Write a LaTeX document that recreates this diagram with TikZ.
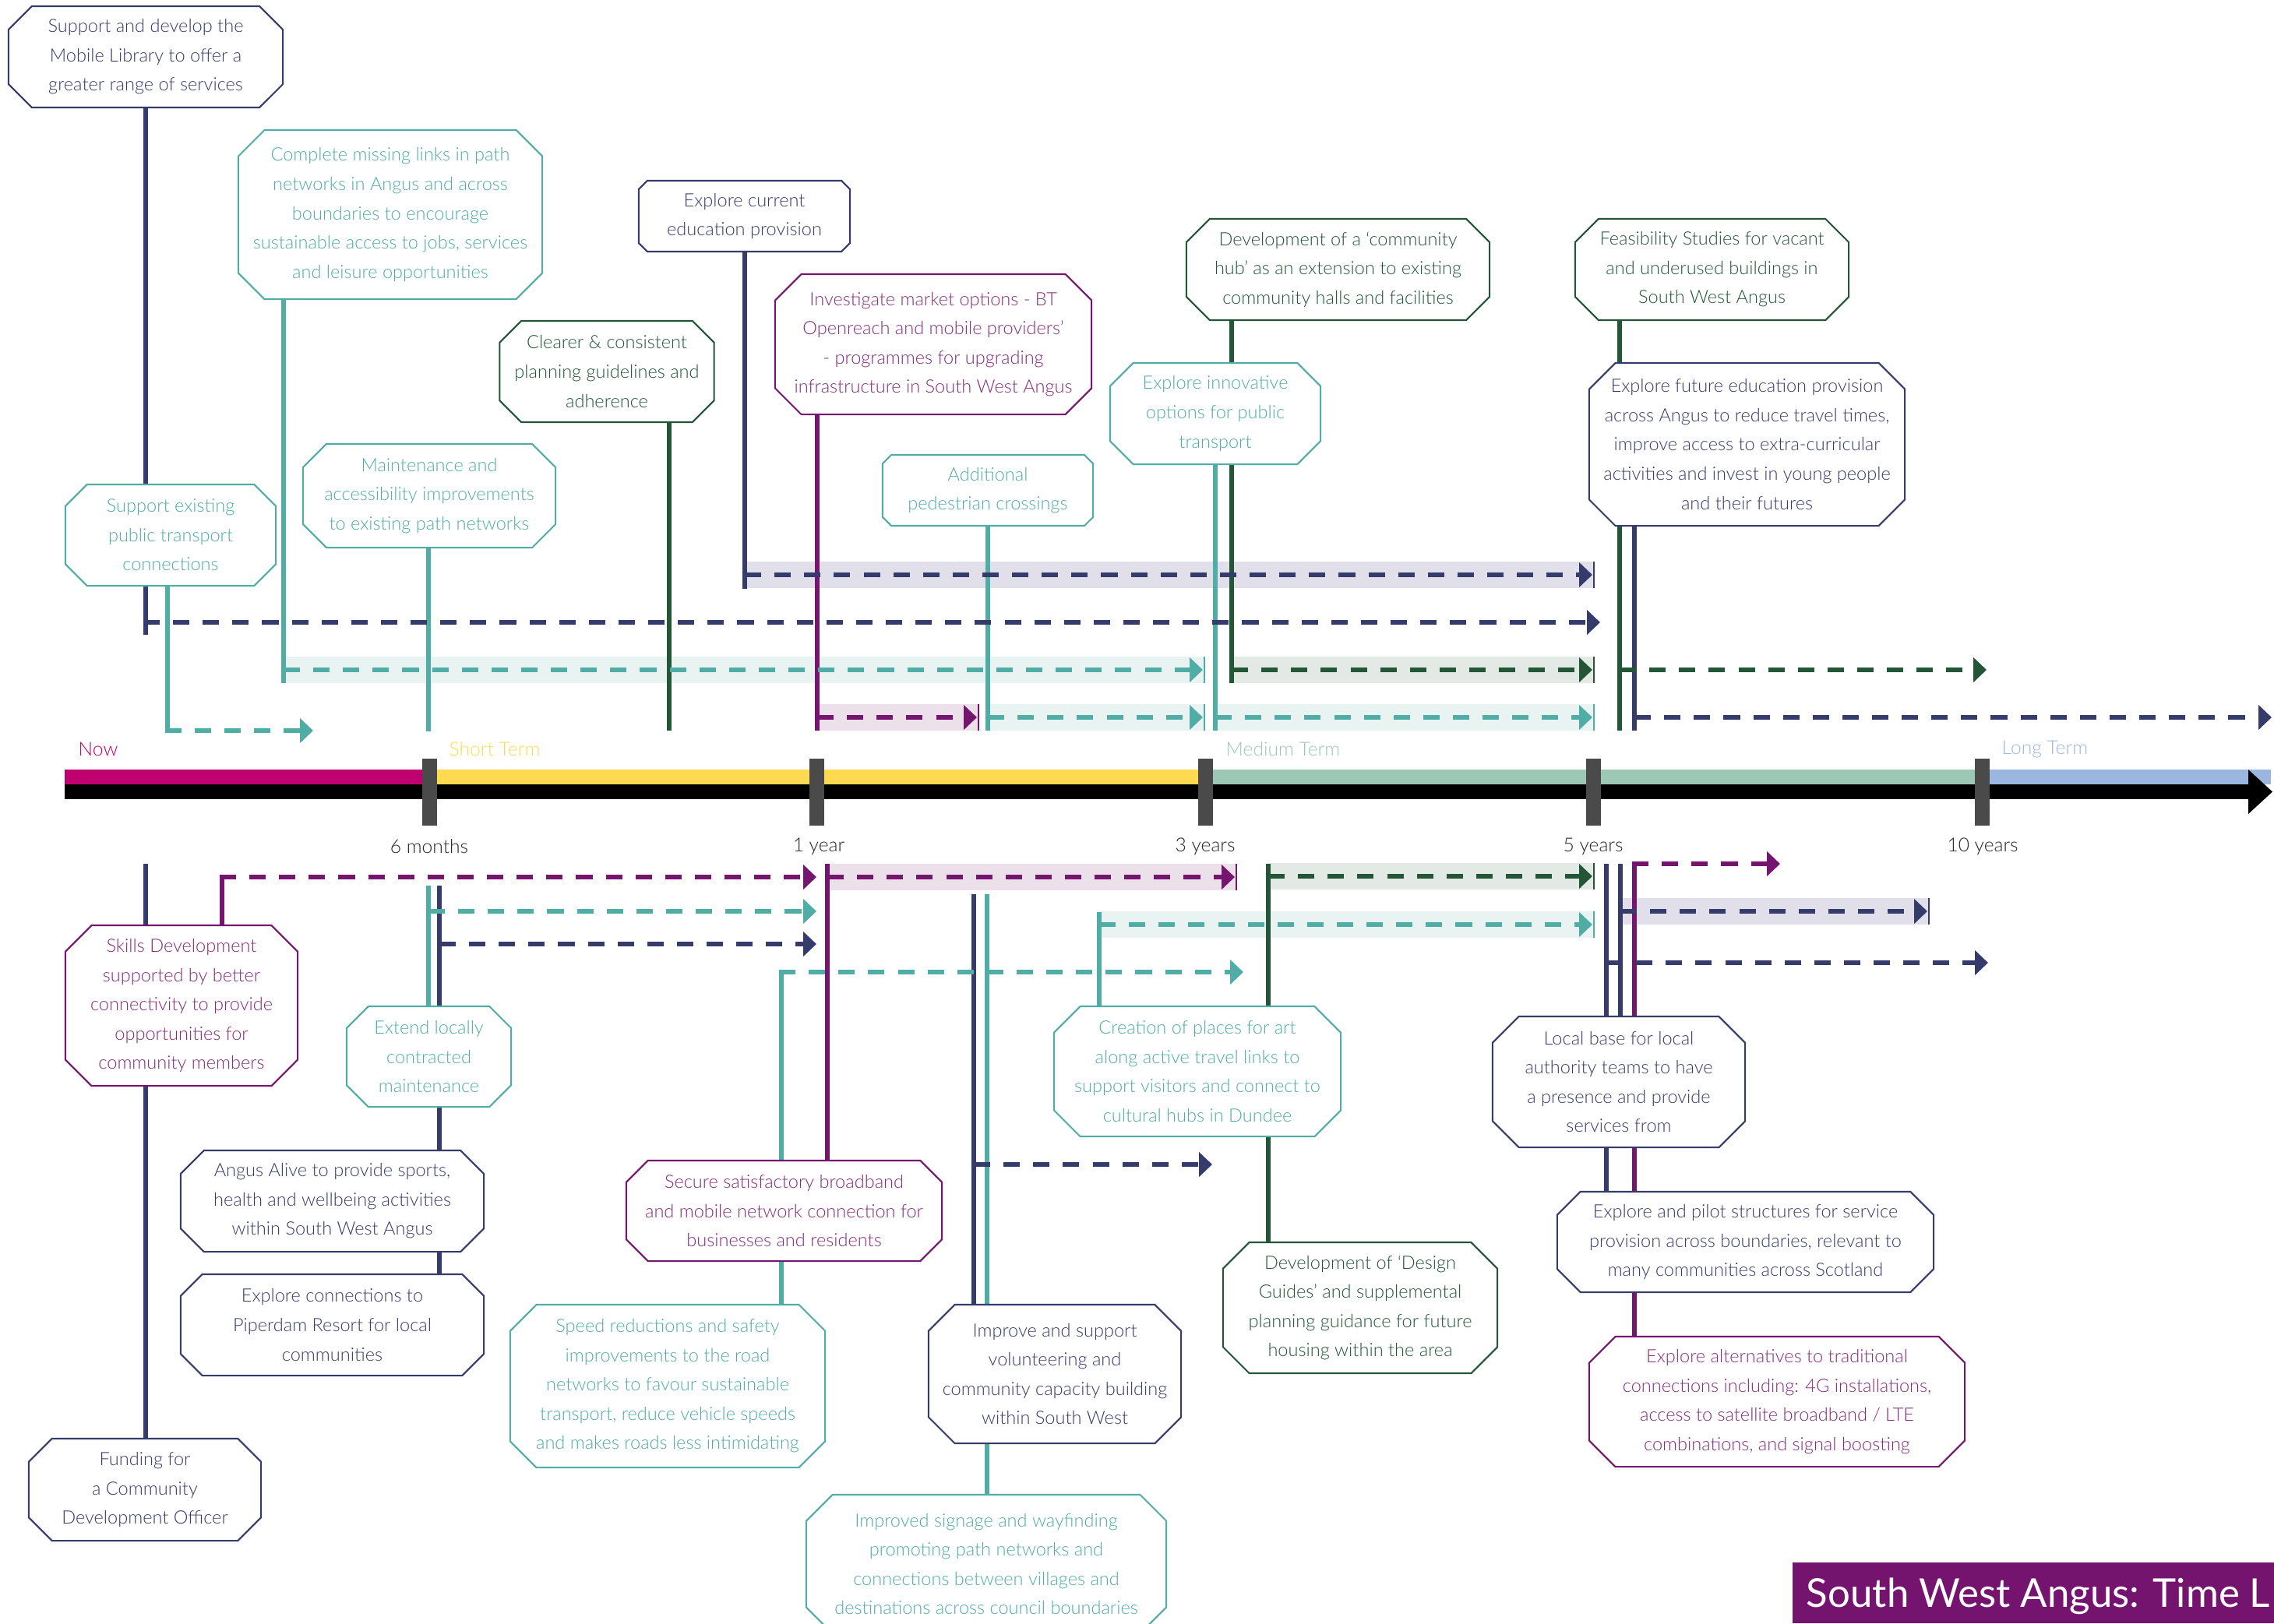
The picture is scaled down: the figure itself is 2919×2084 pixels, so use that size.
\documentclass[tikz,border=0pt]{standalone}
\usepackage{fontspec}
\setmainfont{Lato Light}
\newfontfamily\ttlfont{Lato}
\usetikzlibrary{shapes.misc,arrows.meta}
\pgfdeclarelayer{shade}
\pgfdeclarelayer{lines}
\pgfsetlayers{shade,lines,main}
\definecolor{cnavy}{RGB}{53,60,107}
\definecolor{cteal}{RGB}{80,173,165}
\definecolor{cgreen}{RGB}{35,86,55}
\definecolor{cpurple}{RGB}{118,21,112}
\definecolor{snavy}{RGB}{224,223,234}
\definecolor{steal}{RGB}{233,243,242}
\definecolor{sgreen}{RGB}{227,233,229}
\definecolor{spurple}{RGB}{236,224,235}
\definecolor{cmag}{RGB}{192,0,111}
\definecolor{cyel}{RGB}{255,217,80}
\definecolor{cmed}{RGB}{157,200,181}
\definecolor{cblue}{RGB}{155,183,224}
\definecolor{ctick}{RGB}{74,74,74}
\definecolor{ctitle}{RGB}{116,20,111}
\newcommand\shadedarrow[6]{%
  \coordinate (#1s) at (#4,#6);
  \coordinate (#1e) at (#5-2,#6);
  \begin{pgfonlayer}{shade}
    \fill[#3] (#4,#6-17) rectangle (#5,#6+17);
  \end{pgfonlayer}
  \begin{pgfonlayer}{lines}
    \draw[dline,#2] (#1s) -- (#1e);
    \draw[#2,line width=0.6pt] (#5,#6-17) -- (#5,#6+17);
  \end{pgfonlayer}}
\begin{document}
\begin{tikzpicture}[x=0.01cm,y=-0.01cm,
  box/.style={chamfered rectangle,chamfered rectangle xsep=0.22cm,
    line width=0.6pt,fill=white,align=center,inner xsep=-0.3cm,inner ysep=-0.3cm,
    font=\fontsize{6.7}{10.67}\selectfont},
  nb/.style={box,draw=cnavy,text=cnavy},
  tb/.style={box,draw=cteal,text=cteal},
  gb/.style={box,draw=cgreen,text=cgreen},
  pb/.style={box,draw=cpurple,text=cpurple!90!white},
  vline/.style={line width=1.9pt},
  dline/.style={line width=1.9pt,dash pattern=on 6pt off 4.84pt,-{Triangle[length=4.8pt,width=8.8pt]}},
  lbl/.style={inner sep=0pt,font=\fontsize{7}{8.4}\selectfont},
]
\useasboundingbox (0,0) rectangle (2919,2084);
\clip (0,0) rectangle (2919,2084);

% ---------- top boxes ----------
\node[nb,minimum width=3.52cm,minimum height=1.30cm] (t1) at (187,73) {Support and develop the\\Mobile Library to offer a\\greater range of services};
\node[tb,minimum width=2.70cm,minimum height=1.30cm] (t2) at (219,687) {Support existing\\public transport\\connections};
\node[tb,minimum width=3.90cm,minimum height=2.17cm] (t3) at (501,275.5) {Complete missing links in path\\networks in Angus and across\\boundaries to encourage\\sustainable access to jobs, services\\and leisure opportunities};
\node[tb,minimum width=3.24cm,minimum height=1.33cm] (t4) at (551,636.5) {Maintenance and\\accessibility improvements\\to existing path networks};
\node[gb,minimum width=2.75cm,minimum height=1.30cm] (t5) at (779,477) {Clearer \& consistent\\planning guidelines and\\adherence};
\node[nb,minimum width=2.71cm,minimum height=0.91cm] (t6) at (955.5,277.5) {Explore current\\education provision};
\node[pb,minimum width=4.06cm,minimum height=1.80cm] (t7) at (1198,442) {Investigate market options - BT\\Openreach and mobile providers’\\- programmes for upgrading\\infrastructure in South West Angus};
\node[tb,minimum width=2.70cm,minimum height=0.91cm] (t8) at (1268,629.5) {Additional\\pedestrian crossings};
\node[tb,minimum width=2.70cm,minimum height=1.30cm] (t9) at (1560,531) {Explore innovative\\options for public\\transport};
\node[gb,minimum width=3.89cm,minimum height=1.30cm] (t10) at (1717.5,346) {Development of a ‘community\\hub’ as an extension to existing\\community halls and facilities};
\node[gb,minimum width=3.51cm,minimum height=1.30cm] (t11) at (2197.5,346) {Feasibility Studies for vacant\\and underused buildings in\\South West Angus};
\node[nb,minimum width=4.05cm,minimum height=2.09cm] (t12) at (2242.5,570.5) {Explore future education provision\\across Angus to reduce travel times,\\improve access to extra-curricular\\activities and invest in young people\\and their futures};

% ---------- bottom boxes ----------
\node[pb,minimum width=2.98cm,minimum height=2.06cm] (u1) at (233,1291) {Skills Development\\supported by better\\connectivity to provide\\opportunities for\\community members};
\node[tb,minimum width=2.11cm,minimum height=1.29cm] (u2) at (550.5,1356.5) {Extend locally\\contracted\\maintenance};
\node[nb,minimum width=3.89cm,minimum height=1.30cm] (u3) at (426.5,1542) {Angus Alive to provide sports,\\health and wellbeing activities\\within South West Angus};
\node[nb,minimum width=3.89cm,minimum height=1.30cm] (u4) at (426.5,1701) {Explore connections to\\Piperdam Resort for local\\communities};
\node[nb,minimum width=2.98cm,minimum height=1.31cm] (u5) at (186,1912.5) {Funding for\\a Community\\Development Officer};
\node[tb,minimum width=4.04cm,minimum height=2.09cm] (u6) at (857,1779.5) {Speed reductions and safety\\improvements to the road\\networks to favour sustainable\\transport, reduce vehicle speeds\\and makes roads less intimidating};
\node[pb,minimum width=4.05cm,minimum height=1.29cm] (u7) at (1006.5,1554.5) {Secure satisfactory broadband\\and mobile network connection for\\businesses and residents};
\node[nb,minimum width=3.24cm,minimum height=1.78cm] (u8) at (1354,1764) {Improve and support\\volunteering and\\community capacity building\\within South West};
\node[tb,minimum width=4.62cm,minimum height=1.78cm] (u9) at (1266,2008) {Improved signage and wayfinding\\promoting path networks and\\connections between villages and\\destinations across council boundaries};
\node[tb,minimum width=3.68cm,minimum height=1.67cm] (u10) at (1537,1375.5) {Creation of places for art\\along active travel links to\\support visitors and connect to\\cultural hubs in Dundee};
\node[gb,minimum width=3.52cm,minimum height=1.68cm] (u11) at (1746,1679) {Development of ‘Design\\Guides’ and supplemental\\planning guidance for future\\housing within the area};
\node[nb,minimum width=3.24cm,minimum height=1.68cm] (u12) at (2078,1389) {Local base for local\\authority teams to have\\a presence and provide\\services from};
\node[nb,minimum width=4.83cm,minimum height=1.29cm] (u13) at (2240.5,1594.5) {Explore and pilot structures for service\\provision across boundaries, relevant to\\many communities across Scotland};
\node[pb,minimum width=4.82cm,minimum height=1.67cm] (u14) at (2281,1799.5) {Explore alternatives to traditional\\connections including: 4G installations,\\access to satellite broadband / LTE\\combinations, and signal boosting};

% ---------- connector coordinates ----------
\coordinate (t1v) at (187,815);  \coordinate (t1s) at (184,799);  \coordinate (t1e) at (2054,799);
\coordinate (t2v) at (215,941);  \coordinate (t2s) at (212,938);  \coordinate (t2e) at (402,938);
\coordinate (t3v) at (364,877);
\coordinate (t4v) at (550,939);
\coordinate (t5v) at (859,938);
\coordinate (t6v) at (956,756);
\coordinate (t7v) at (1049,938);
\coordinate (t8v) at (1268,938);
\coordinate (t9v) at (1560,938);
\coordinate (t10v) at (1581,877);
\coordinate (t11v) at (2079,938); \coordinate (t11s) at (2079,860); \coordinate (t11e) at (2550,860);
\coordinate (t12v) at (2098,938); \coordinate (t12s) at (2098,921); \coordinate (t12e) at (2916,921);

\coordinate (u5v) at (187,1109);
\coordinate (u1v) at (285,1123);  \coordinate (u1s) at (282,1126);  \coordinate (u1e) at (1048,1126);
\coordinate (u2v) at (550,1137);  \coordinate (u2s) at (550,1170);  \coordinate (u2e) at (1048,1170);
\coordinate (u3v) at (564,1137);  \coordinate (u3s) at (564,1212);  \coordinate (u3e) at (1048,1212);
\coordinate (u7v) at (1062,1109);
\coordinate (u6v) at (1003,1245); \coordinate (u6s) at (1000,1248); \coordinate (u6e) at (1596,1248);
\coordinate (u8v) at (1250,1148); \coordinate (u8s) at (1250,1495); \coordinate (u8e) at (1556,1495);
\coordinate (u9v) at (1267,1148);
\coordinate (u10v) at (1411,1171);
\coordinate (u11v) at (1628,1109);
\coordinate (u12v) at (2062,1109); \coordinate (u12w) at (2080,1109);
\coordinate (u12s) at (2062,1236); \coordinate (u12e) at (2552,1236);
\coordinate (u14v) at (2098,1106); \coordinate (u14s) at (2095,1109); \coordinate (u14e) at (2285,1109);

\begin{pgfonlayer}{lines}
  % top verticals
  \draw[vline,cnavy] (t1.south -| t1v) -- (t1v);
  \draw[vline,cteal] (t2.south -| t2v) -- (t2v);
  \draw[vline,cteal] (t3.south -| t3v) -- (t3v);
  \draw[vline,cteal] (t4.south -| t4v) -- (t4v);
  \draw[vline,cgreen] (t5.south -| t5v) -- (t5v);
  \draw[vline,cnavy] (t6.south -| t6v) -- (t6v);
  \draw[vline,cpurple] (t7.south -| t7v) -- (t7v);
  \draw[vline,cteal] (t8.south -| t8v) -- (t8v);
  \draw[vline,cteal] (t9.south -| t9v) -- (t9v);
  \draw[vline,cgreen] (t10.south -| t10v) -- (t10v);
  \draw[vline,cgreen] (t11.south -| t11v) -- (t11v);
  \draw[vline,cnavy] (t12.south -| t12v) -- (t12v);
  % top plain dashed arrows
  \draw[dline,cnavy] (t1s) -- (t1e);
  \draw[dline,cteal] (t2s) -- (t2e);
  \draw[dline,cgreen] (t11s) -- (t11e);
  \draw[dline,cnavy] (t12s) -- (t12e);
  % bottom verticals
  \draw[vline,cnavy] (u5v) -- (u5.north -| u5v);
  \draw[vline,cpurple] (u1.north -| u1v) -- (u1v);
  \draw[vline,cteal] (u2v) -- (u2.north -| u2v);
  \draw[vline,cnavy] (u3v) -- (u3.north -| u3v);
  \draw[vline,cnavy] (u3.south -| u3v) -- (u4.north -| u3v);
  \draw[vline,cpurple] (u7v) -- (u7.north -| u7v);
  \draw[vline,cteal] (u6.north -| u6v) -- (u6v);
  \draw[vline,cnavy] (u8v) -- (u8.north -| u8v);
  \draw[vline,cteal] (u9v) -- (u9.north -| u9v);
  \draw[vline,cteal] (u10.north -| u10v) -- (u10v);
  \draw[vline,cgreen] (u11v) -- (u11.north -| u11v);
  \draw[vline,cnavy] (u12v) -- (u12.north -| u12v);
  \draw[vline,cnavy] (u12w) -- (u12.north -| u12w);
  \draw[vline,cnavy] (u12.south -| u12v) -- (u13.north -| u12v);
  \draw[vline,cpurple] (u14.north -| u14v) -- (u14v);
  % bottom plain dashed arrows
  \draw[dline,cpurple] (u1s) -- (u1e);
  \draw[dline,cteal] (u2s) -- (u2e);
  \draw[dline,cnavy] (u3s) -- (u3e);
  \draw[dline,cteal] (u6s) -- (u6e);
  \draw[dline,cnavy] (u8s) -- (u8e);
  \draw[dline,cnavy] (u12s) -- (u12e);
  \draw[dline,cpurple] (u14s) -- (u14e);
\end{pgfonlayer}

% shaded arrows
\shadedarrow{t3a}{cteal}{steal}{364}{1546}{860}
\shadedarrow{t6a}{cnavy}{snavy}{956}{2046}{738}
\shadedarrow{t7a}{cpurple}{spurple}{1049}{1256}{921}
\shadedarrow{t8a}{cteal}{steal}{1268}{1546}{921}
\shadedarrow{t9a}{cteal}{steal}{1560}{2046}{921}
\shadedarrow{t10a}{cgreen}{sgreen}{1581}{2046}{860}
\shadedarrow{u7a}{cpurple}{spurple}{1062}{1587}{1126}
\shadedarrow{u10a}{cteal}{steal}{1411}{2046}{1187}
\shadedarrow{u11a}{cgreen}{sgreen}{1628}{2046}{1125}
\shadedarrow{u12a}{cnavy}{snavy}{2080}{2476}{1170}

% ---------- time axis ----------
\fill[cmag] (83,988) rectangle (551,1007);
\fill[cyel] (551,988) rectangle (1547,1007);
\fill[cmed] (1547,988) rectangle (2544,1007);
\fill[cblue] (2544,988) rectangle (2915,1007);
\fill[black] (83,1007) rectangle (2888,1026);
\fill[black] (2886,988) -- (2917,1016.5) -- (2886,1045) -- cycle;
\foreach \t in {551,1048.5,1547,2045.5,2544}
  \fill[ctick] (\t-9.5,974) rectangle (\t+9.5,1060);

\node[lbl,anchor=west,text=cmag] (now) at (100,962) {Now};
\node[lbl,anchor=west,text=cyel] (short) at (576,962) {Short Term};
\node[lbl,anchor=west,text=cmed] (medium) at (1573,962) {Medium Term};
\node[lbl,anchor=west,text=cblue] (long) at (2569,962) {Long Term};
\node[lbl,text=black!85] (m6) at (551,1087) {6 months};
\node[lbl,text=black!85] (y1) at (1051,1087) {1 year};
\node[lbl,text=black!85] (y3) at (1547,1087) {3 years};
\node[lbl,text=black!85] (y5) at (2045,1087) {5 years};
\node[lbl,text=black!85] (y10) at (2545,1087) {10 years};

% ---------- title ----------
\fill[ctitle] (2301,2006) rectangle (2919,2084);
\node[anchor=base west,inner sep=0pt,text=white,font=\ttlfont\fontsize{14.5}{17}\selectfont] (title) at (2318,2063) {South West Angus: Time L};
\end{tikzpicture}
\end{document}
